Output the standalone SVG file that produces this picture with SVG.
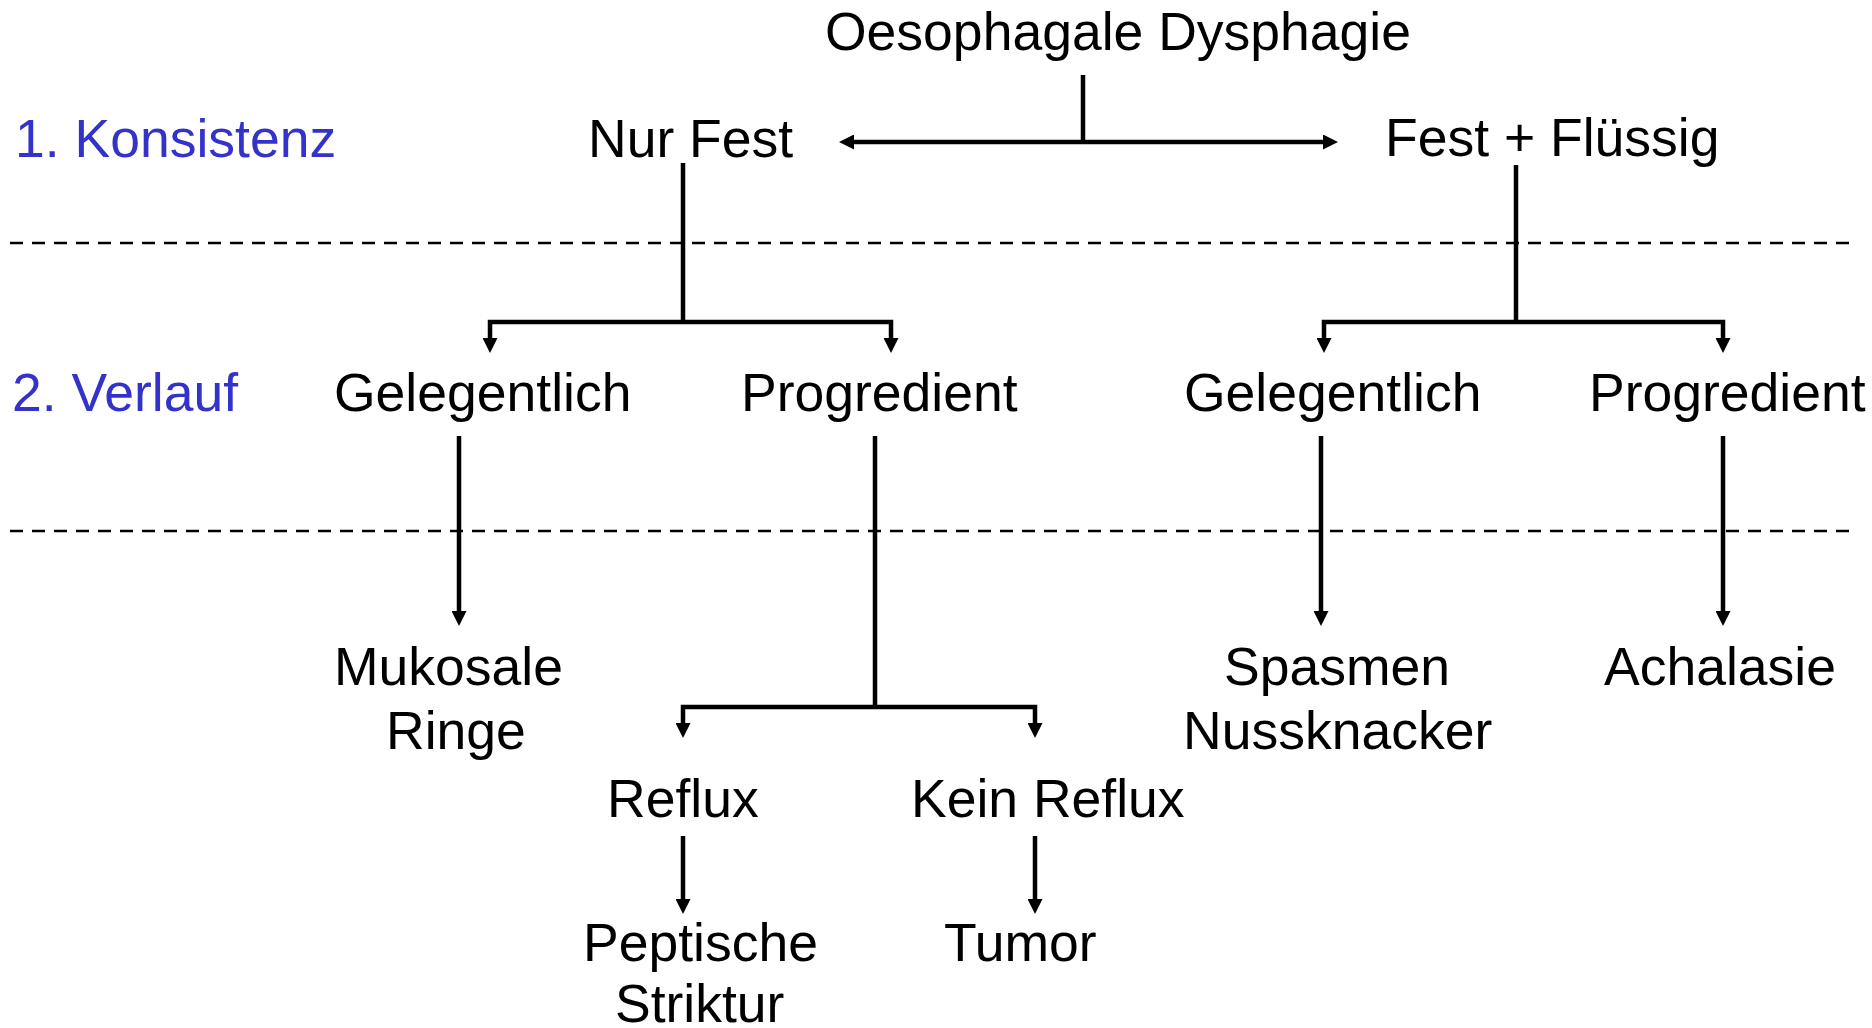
<svg xmlns="http://www.w3.org/2000/svg" width="1872" height="1028" viewBox="0 0 1872 1028">
  <style>
    text { font-family: "Liberation Sans", Arial, sans-serif; font-size: 53.5px; fill: #000; }
    .lvl { fill: #3333CC; }
    .con { stroke: #000; stroke-width: 4.5; fill: none; }
    .arr { marker-end: url(#ah); }
    .sep { stroke: #000; stroke-width: 2.5; stroke-dasharray: 13 9; fill: none; }
  </style>
  <defs>
    <marker id="ah" viewBox="0 0 15 15" markerWidth="15" markerHeight="15" markerUnits="userSpaceOnUse" refX="7" refY="7.5" orient="auto-start-reverse">
      <path d="M0,0 L15,7.5 L0,15 z" fill="#000"/>
    </marker>
  </defs>
  <rect width="1872" height="1028" fill="#fff"/>

  <g id="separators">
    <line class="sep" x1="10" y1="243" x2="1853" y2="243"/>
    <line class="sep" x1="10" y1="531" x2="1853" y2="531"/>
  </g>

  <g id="levels">
    <text class="lvl" x="15" y="157">1. Konsistenz</text>
    <text class="lvl" x="12" y="411">2. Verlauf</text>
  </g>

  <g id="connectors">
    <line class="con" x1="1083" y1="75" x2="1083" y2="142"/>
    <line class="con" x1="847" y1="142" x2="1330" y2="142" marker-start="url(#ah)" marker-end="url(#ah)"/>
    <line class="con" x1="683" y1="163" x2="683" y2="322"/>
    <path class="con arr" d="M683,322 H490 V345"/>
    <path class="con arr" d="M683,322 H891 V345"/>
    <line class="con" x1="1516" y1="165" x2="1516" y2="322"/>
    <path class="con arr" d="M1516,322 H1324 V345"/>
    <path class="con arr" d="M1516,322 H1723 V345"/>
    <line class="con arr" x1="459" y1="436" x2="459" y2="618"/>
    <line class="con arr" x1="1321" y1="436" x2="1321" y2="618"/>
    <line class="con arr" x1="1723" y1="436" x2="1723" y2="618"/>
    <line class="con" x1="875" y1="436" x2="875" y2="707"/>
    <path class="con arr" d="M875,707 H683 V730"/>
    <path class="con arr" d="M875,707 H1035 V730"/>
    <line class="con arr" x1="683" y1="836" x2="683" y2="906"/>
    <line class="con arr" x1="1035" y1="836" x2="1035" y2="906"/>
  </g>

  <g id="n-root"><text x="825" y="50">Oesophagale Dysphagie</text></g>
  <g id="n-nurfest"><text x="588" y="157">Nur Fest</text></g>
  <g id="n-festfluessig"><text x="1385" y="156">Fest + Flüssig</text></g>
  <g id="n-gel-l"><text x="334" y="411">Gelegentlich</text></g>
  <g id="n-prog-l"><text x="741" y="411">Progredient</text></g>
  <g id="n-gel-r"><text x="1184" y="411">Gelegentlich</text></g>
  <g id="n-prog-r"><text x="1589" y="411">Progredient</text></g>
  <g id="n-mukosale"><text x="334" y="685">Mukosale</text><text x="386" y="749">Ringe</text></g>
  <g id="n-spasmen"><text x="1224" y="685">Spasmen</text><text x="1183" y="749">Nussknacker</text></g>
  <g id="n-achalasie"><text x="1604" y="685">Achalasie</text></g>
  <g id="n-reflux"><text x="607" y="817">Reflux</text></g>
  <g id="n-keinreflux"><text x="911" y="817">Kein Reflux</text></g>
  <g id="n-peptische"><text x="583" y="961">Peptische</text><text x="615" y="1022">Striktur</text></g>
  <g id="n-tumor"><text x="944" y="961">Tumor</text></g>
</svg>
